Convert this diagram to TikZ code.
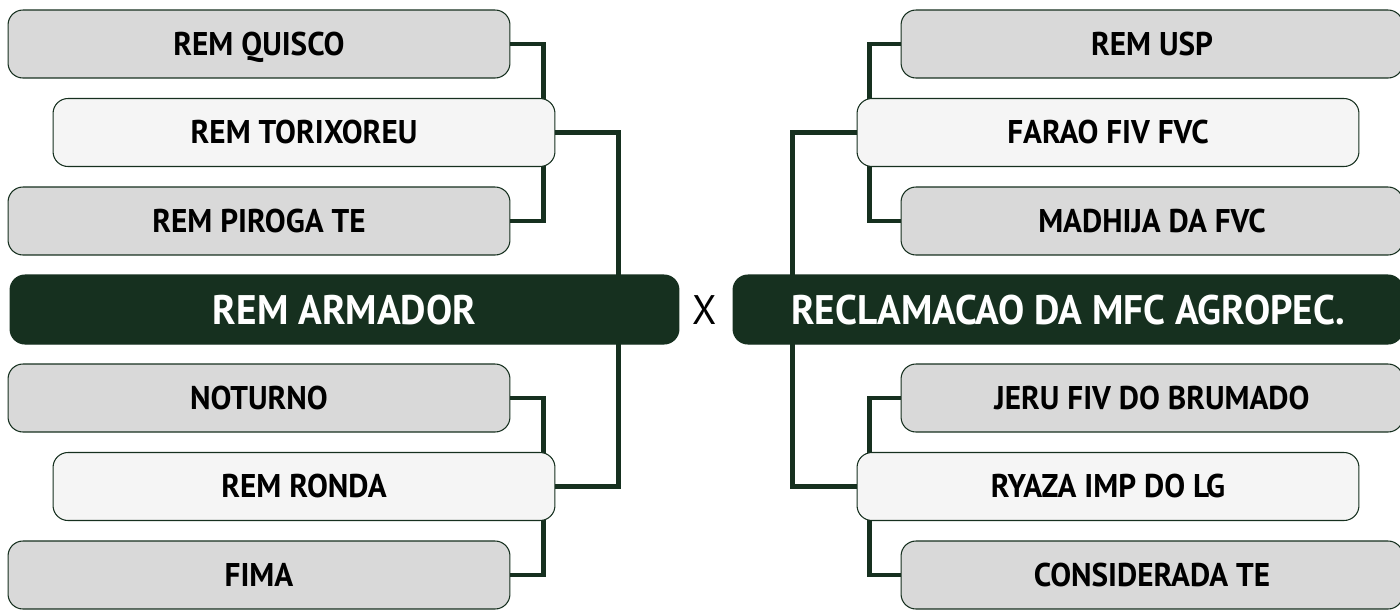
\documentclass[tikz,border=0pt]{standalone}
\usepackage{fontspec}
\setmainfont{PT Sans}[FakeStretch=0.95]
\usepackage{tikz}
\usetikzlibrary{positioning,backgrounds}
\definecolor{mygreen}{HTML}{16301F}
\definecolor{mygray}{HTML}{D9D9D9}
\definecolor{mylight}{HTML}{F5F5F5}
\tikzset{
	team/.style={draw=mygreen, line width=0.6pt, rounded corners=8.5pt, fill=mygray, inner sep=0pt,
		minimum width=10.04cm, minimum height=1.36cm, text height=13pt, text depth=0pt,
		font=\fontsize{18.7}{20}\selectfont\bfseries, text=black},
	seed/.style={team, fill=mylight},
	final/.style={team, fill=mygreen, text=white, minimum width=13.38cm, minimum height=1.38cm,
		text height=16.5pt, font=\fontsize{23.5}{26}\selectfont\bfseries},
	link/.style={draw=mygreen, line width=2.45pt}
}

\begin{document}
\begin{tikzpicture}[x=0.02cm, y=-0.02cm]
		%% page size, in pixels of the picture
		\useasboundingbox (0,0) rectangle (1400,609);
		%% left side of the bracket
		\node[team] (quisco) at (259,44) {REM QUISCO};
		\node[seed] (torixoreu) at (304,132.5) {REM TORIXOREU};
		\node[team] (piroga) at (259,221) {REM PIROGA TE};
		\node[final] (armador) at (344.5,309.5) {REM ARMADOR};
		\node[team] (noturno) at (259,398) {NOTURNO};
		\node[seed] (ronda) at (304,486.5) {REM RONDA};
		\node[team] (fima) at (259,575) {FIMA};
		%% right side of the bracket
		\node[team] (usp) at (1152,44) {REM USP};
		\node[seed] (farao) at (1108,132.5) {FARAO FIV FVC};
		\node[team] (madhija) at (1152,221) {MADHIJA DA FVC};
		\node[final, minimum width=13.4cm] (reclamacao) at (1068,309.5) {RECLAMACAO DA MFC AGROPEC.};
		\node[team] (jeru) at (1152,398) {JERU FIV DO BRUMADO};
		\node[seed] (ryaza) at (1108,486.5) {RYAZA IMP DO LG};
		\node[team] (considerada) at (1152,575) {CONSIDERADA TE};
		\node[font=\fontsize{23.5}{26}\selectfont, text height=16.5pt, text depth=0pt, inner sep=0pt] (versus) at (705,309.5) {X};
		%% the lines go behind the boxes
		\begin{scope}[on background layer]
			\draw[link] (quisco.east) -- ++(33,0) |- (piroga.east);
			\draw[link] (noturno.east) -- ++(33,0) |- (fima.east);
			\draw[link] (torixoreu.east) -- ++(63,0) |- (ronda.east);
			\draw[link] (usp.west) -- ++(-31,0) |- (madhija.west);
			\draw[link] (jeru.west) -- ++(-31,0) |- (considerada.west);
			\draw[link] (farao.west) -- ++(-64,0) |- (ryaza.west);
		\end{scope}
	\end{tikzpicture}
\end{document}
